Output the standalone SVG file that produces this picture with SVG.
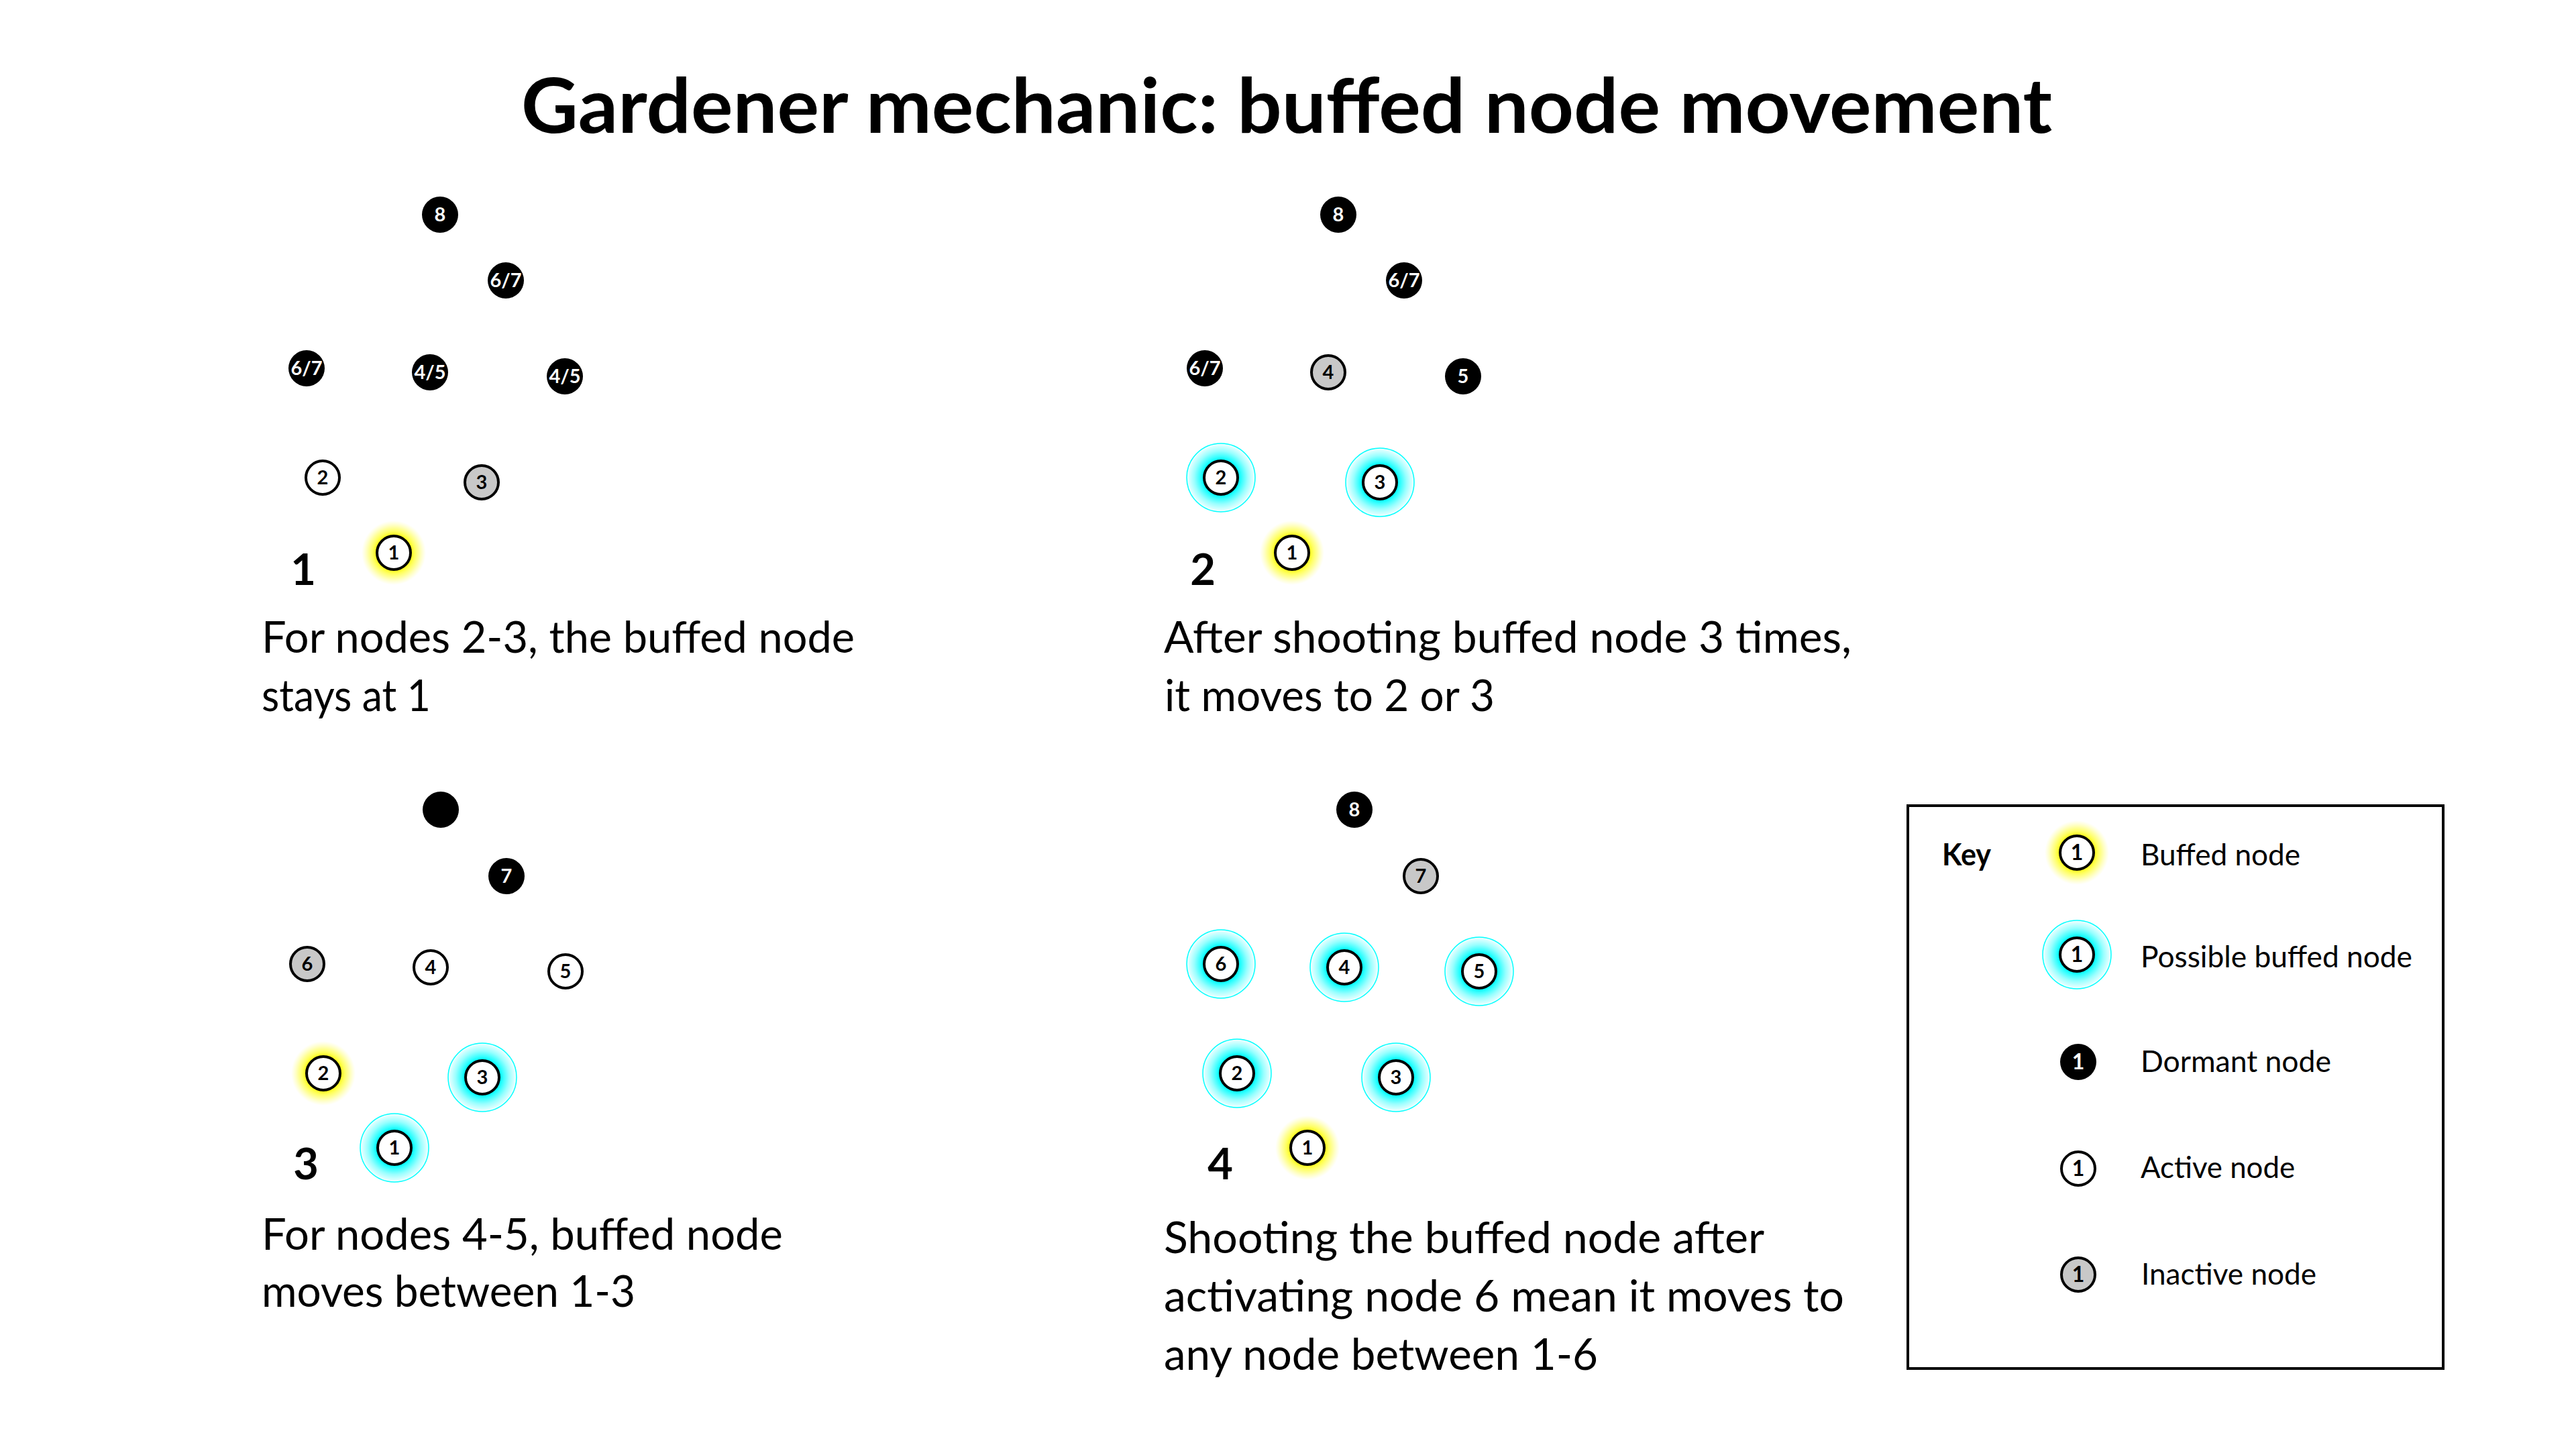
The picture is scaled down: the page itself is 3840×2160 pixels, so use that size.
<svg xmlns="http://www.w3.org/2000/svg" width="3840" height="2160" viewBox="0 0 3840 2160">
<defs>
<radialGradient id="gY" cx="0.5" cy="0.5" r="0.5">
<stop offset="0" stop-color="#ffff1a" stop-opacity="1"/>
<stop offset="0.55" stop-color="#ffff1a" stop-opacity="1"/>
<stop offset="0.78" stop-color="#ffff4d" stop-opacity="0.55"/>
<stop offset="1" stop-color="#ffff80" stop-opacity="0"/>
</radialGradient>
<radialGradient id="gC" cx="0.5" cy="0.5" r="0.5">
<stop offset="0" stop-color="#00ffff" stop-opacity="1"/>
<stop offset="0.52" stop-color="#00ffff" stop-opacity="1"/>
<stop offset="0.78" stop-color="#00ffff" stop-opacity="0.4"/>
<stop offset="1" stop-color="#00ffff" stop-opacity="0.04"/>
</radialGradient>
</defs>
<style>
.dormant{fill:#000}
.active{fill:#fff;stroke:#000;stroke-width:4}
.inactive{fill:#c8c8c8;stroke:#000;stroke-width:4}
.gy{fill:url(#gY)}
.gc{fill:url(#gC);stroke:#00ffff;stroke-width:1.5}
.nl{font-family:Lato,'Open Sans',sans-serif;font-weight:700;font-size:29px;text-anchor:middle;fill:#000}
.kl{font-size:32px}
.w{fill:#fff}
.title{font-family:Lato,'Open Sans',sans-serif;font-weight:700;font-size:113px;text-anchor:middle;fill:#000}
.body{font-family:Lato,'Open Sans',sans-serif;font-size:65px;fill:#000}
.num{font-family:Lato,'Open Sans',sans-serif;font-weight:700;font-size:65px;text-anchor:middle;fill:#000}
.key{font-family:Lato,'Open Sans',sans-serif;font-size:45px;fill:#000}
.keyb{font-family:Lato,'Open Sans',sans-serif;font-weight:700;font-size:45px;fill:#000}
.box{fill:none;stroke:#000;stroke-width:4}
</style>
<rect width="3840" height="2160" fill="#fff"/>
<text class="title" x="1918" y="198" textLength="2282" lengthAdjust="spacingAndGlyphs">Gardener mechanic: buffed node movement</text>

<!-- Panel 1 -->
<g id="panel1">
<g id="p1-n8"><circle class="dormant" cx="656" cy="320" r="27"/><text class="nl w" x="656" y="330">8</text></g>
<g id="p1-n67a"><circle class="dormant" cx="754" cy="418" r="27"/><text class="nl w" x="754" y="428">6/7</text></g>
<g id="p1-n67b"><circle class="dormant" cx="457" cy="549" r="27"/><text class="nl w" x="457" y="559">6/7</text></g>
<g id="p1-n45a"><circle class="dormant" cx="641" cy="555" r="27"/><text class="nl w" x="641" y="565">4/5</text></g>
<g id="p1-n45b"><circle class="dormant" cx="842" cy="561" r="27"/><text class="nl w" x="842" y="571">4/5</text></g>
<g id="p1-n2"><circle class="active" cx="481" cy="712" r="25"/><text class="nl" x="481" y="722">2</text></g>
<g id="p1-n3"><circle class="inactive" cx="718" cy="719" r="25"/><text class="nl" x="718" y="729">3</text></g>
<g id="p1-n1"><circle class="gy" cx="587" cy="824" r="48"/><circle class="active" cx="587" cy="824" r="25"/><text class="nl" x="587" y="834">1</text></g>
<text class="num" x="452" y="872">1</text>
<text class="body" x="390" y="973" textLength="884" lengthAdjust="spacingAndGlyphs">For nodes 2-3, the buffed node</text>
<text class="body" x="390" y="1060" textLength="252" lengthAdjust="spacingAndGlyphs">stays at 1</text>
</g>

<!-- Panel 2 -->
<g id="panel2">
<g id="p2-n8"><circle class="dormant" cx="1995" cy="320" r="27"/><text class="nl w" x="1995" y="330">8</text></g>
<g id="p2-n67a"><circle class="dormant" cx="2093" cy="418" r="27"/><text class="nl w" x="2093" y="428">6/7</text></g>
<g id="p2-n67b"><circle class="dormant" cx="1796" cy="549" r="27"/><text class="nl w" x="1796" y="559">6/7</text></g>
<g id="p2-n4"><circle class="inactive" cx="1980" cy="555" r="25"/><text class="nl" x="1980" y="565">4</text></g>
<g id="p2-n5"><circle class="dormant" cx="2181" cy="561" r="27"/><text class="nl w" x="2181" y="571">5</text></g>
<g id="p2-n2"><circle class="gc" cx="1820" cy="712" r="51"/><circle class="active" cx="1820" cy="712" r="25"/><text class="nl" x="1820" y="722">2</text></g>
<g id="p2-n3"><circle class="gc" cx="2057" cy="719" r="51"/><circle class="active" cx="2057" cy="719" r="25"/><text class="nl" x="2057" y="729">3</text></g>
<g id="p2-n1"><circle class="gy" cx="1926" cy="824" r="48"/><circle class="active" cx="1926" cy="824" r="25"/><text class="nl" x="1926" y="834">1</text></g>
<text class="num" x="1793" y="872">2</text>
<text class="body" x="1735" y="973" textLength="1025" lengthAdjust="spacingAndGlyphs">After shooting buffed node 3 times,</text>
<text class="body" x="1736" y="1060" textLength="492" lengthAdjust="spacingAndGlyphs">it moves to 2 or 3</text>
</g>

<!-- Panel 3 -->
<g id="panel3">
<g id="p3-n8"><circle class="dormant" cx="657" cy="1207" r="27"/></g>
<g id="p3-n7"><circle class="dormant" cx="755" cy="1306" r="27"/><text class="nl w" x="755" y="1316">7</text></g>
<g id="p3-n6"><circle class="inactive" cx="458" cy="1437" r="25"/><text class="nl" x="458" y="1447">6</text></g>
<g id="p3-n4"><circle class="active" cx="642" cy="1442" r="25"/><text class="nl" x="642" y="1452">4</text></g>
<g id="p3-n5"><circle class="active" cx="843" cy="1448" r="25"/><text class="nl" x="843" y="1458">5</text></g>
<g id="p3-n2"><circle class="gy" cx="482" cy="1600" r="48"/><circle class="active" cx="482" cy="1600" r="25"/><text class="nl" x="482" y="1610">2</text></g>
<g id="p3-n3"><circle class="gc" cx="719" cy="1606" r="51"/><circle class="active" cx="719" cy="1606" r="25"/><text class="nl" x="719" y="1616">3</text></g>
<g id="p3-n1"><circle class="gc" cx="588" cy="1711" r="51"/><circle class="active" cx="588" cy="1711" r="25"/><text class="nl" x="588" y="1721">1</text></g>
<text class="num" x="456" y="1758">3</text>
<text class="body" x="390" y="1863" textLength="777" lengthAdjust="spacingAndGlyphs">For nodes 4-5, buffed node</text>
<text class="body" x="390" y="1948" textLength="557" lengthAdjust="spacingAndGlyphs">moves between 1-3</text>
</g>

<!-- Panel 4 -->
<g id="panel4">
<g id="p4-n8"><circle class="dormant" cx="2019" cy="1207" r="27"/><text class="nl w" x="2019" y="1217">8</text></g>
<g id="p4-n7"><circle class="inactive" cx="2118" cy="1306" r="25"/><text class="nl" x="2118" y="1316">7</text></g>
<g id="p4-n6"><circle class="gc" cx="1820" cy="1437" r="51"/><circle class="active" cx="1820" cy="1437" r="25"/><text class="nl" x="1820" y="1447">6</text></g>
<g id="p4-n4"><circle class="gc" cx="2004" cy="1442" r="51"/><circle class="active" cx="2004" cy="1442" r="25"/><text class="nl" x="2004" y="1452">4</text></g>
<g id="p4-n5"><circle class="gc" cx="2205" cy="1448" r="51"/><circle class="active" cx="2205" cy="1448" r="25"/><text class="nl" x="2205" y="1458">5</text></g>
<g id="p4-n2"><circle class="gc" cx="1844" cy="1600" r="51"/><circle class="active" cx="1844" cy="1600" r="25"/><text class="nl" x="1844" y="1610">2</text></g>
<g id="p4-n3"><circle class="gc" cx="2081" cy="1606" r="51"/><circle class="active" cx="2081" cy="1606" r="25"/><text class="nl" x="2081" y="1616">3</text></g>
<g id="p4-n1"><circle class="gy" cx="1949" cy="1711" r="48"/><circle class="active" cx="1949" cy="1711" r="25"/><text class="nl" x="1949" y="1721">1</text></g>
<text class="num" x="1819" y="1758">4</text>
<text class="body" x="1735" y="1868" textLength="895" lengthAdjust="spacingAndGlyphs">Shooting the buffed node after</text>
<text class="body" x="1735" y="1955" textLength="1014" lengthAdjust="spacingAndGlyphs">activating node 6 mean it moves to</text>
<text class="body" x="1735" y="2042" textLength="647" lengthAdjust="spacingAndGlyphs">any node between 1-6</text>
</g>

<!-- Key -->
<g id="key">
<rect class="box" x="2844" y="1201" width="798" height="839"/>
<text class="keyb" x="2895" y="1290" textLength="73" lengthAdjust="spacingAndGlyphs">Key</text>
<g id="key-buffed"><circle class="gy" cx="3096" cy="1271" r="48"/><circle class="active" cx="3096" cy="1271" r="25"/><text class="nl kl" x="3096" y="1282">1</text></g>
<g id="key-possible"><circle class="gc" cx="3096" cy="1423" r="51"/><circle class="active" cx="3096" cy="1423" r="25"/><text class="nl kl" x="3096" y="1434">1</text></g>
<g id="key-dormant"><circle class="dormant" cx="3098" cy="1583" r="27"/><text class="nl kl w" x="3098" y="1594">1</text></g>
<g id="key-active"><circle class="active" cx="3098" cy="1742" r="25"/><text class="nl kl" x="3098" y="1753">1</text></g>
<g id="key-inactive"><circle class="inactive" cx="3098" cy="1900" r="25"/><text class="nl kl" x="3098" y="1911">1</text></g>
<text class="key" x="3191" y="1290" textLength="238" lengthAdjust="spacingAndGlyphs">Buffed node</text>
<text class="key" x="3191" y="1442" textLength="405" lengthAdjust="spacingAndGlyphs">Possible buffed node</text>
<text class="key" x="3191" y="1598" textLength="284" lengthAdjust="spacingAndGlyphs">Dormant node</text>
<text class="key" x="3191" y="1756" textLength="230" lengthAdjust="spacingAndGlyphs">Active node</text>
<text class="key" x="3192" y="1915" textLength="261" lengthAdjust="spacingAndGlyphs">Inactive node</text>
</g>
</svg>
